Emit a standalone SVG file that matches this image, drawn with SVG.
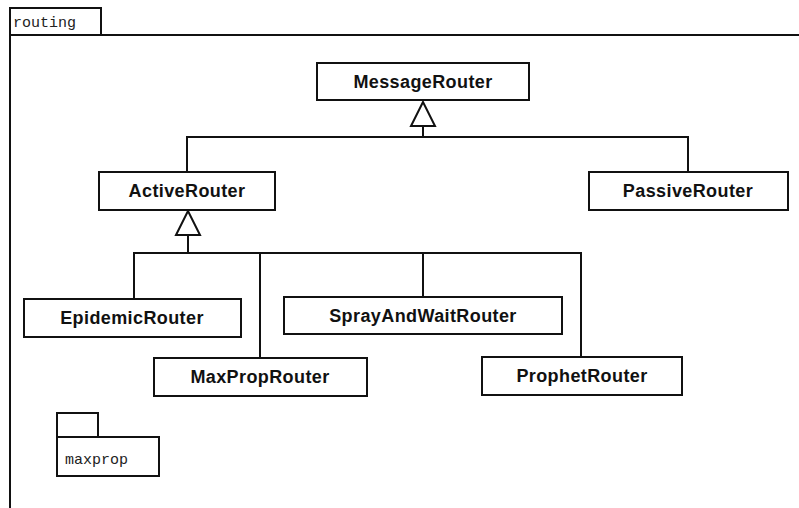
<svg xmlns="http://www.w3.org/2000/svg" width="799" height="508" viewBox="0 0 799 508">
  <style>
    .box { fill: #fff; stroke: #111; stroke-width: 2; }
    .frame { fill: none; stroke: #111; stroke-width: 2; }
    .lbl { font-family: "Liberation Sans", Arial, sans-serif; font-weight: bold; font-size: 18px; letter-spacing: 0.4px; fill: #111; text-anchor: middle; }
    .pkg { font-family: "Liberation Mono", "Courier New", monospace; font-size: 15px; fill: #222; }
    .conn { fill: none; stroke: #111; stroke-width: 2; }
    .tri { fill: #fff; stroke: #111; stroke-width: 2; stroke-linejoin: miter; }
  </style>

  <!-- package frame: routing -->
  <g id="routing">
    <rect class="frame" x="10" y="8" width="91" height="27"/>
    <path class="frame" d="M10 35 V508 M10 35 H799"/>
    <text class="pkg" x="13" y="27">routing</text>
  </g>

  <!-- generalization connectors -->
  <g id="connectors">
    <path class="conn" d="M423 126 V137 M187 172 V137 H688 V172"/>
    <polygon class="tri" points="423,102 411,126 435,126"/>
    <path class="conn" d="M188 235 V253 M134 299 V253 H581 V357 M260 253 V358 M423 253 V297"/>
    <polygon class="tri" points="188,211 176,235 200,235"/>
  </g>

  <g id="MessageRouter">
    <rect class="box" x="317" y="63" width="212" height="37"/>
    <text class="lbl" x="423" y="88">MessageRouter</text>
  </g>

  <g id="ActiveRouter">
    <rect class="box" x="99" y="172" width="176" height="38"/>
    <text class="lbl" x="187" y="197">ActiveRouter</text>
  </g>

  <g id="PassiveRouter">
    <rect class="box" x="589" y="172" width="199" height="38"/>
    <text class="lbl" x="688" y="197">PassiveRouter</text>
  </g>

  <g id="EpidemicRouter">
    <rect class="box" x="24" y="299" width="217" height="38"/>
    <text class="lbl" x="132" y="324">EpidemicRouter</text>
  </g>

  <g id="SprayAndWaitRouter">
    <rect class="box" x="284" y="297" width="278" height="37"/>
    <text class="lbl" x="423" y="322">SprayAndWaitRouter</text>
  </g>

  <g id="MaxPropRouter">
    <rect class="box" x="154" y="358" width="213" height="38"/>
    <text class="lbl" x="260" y="383">MaxPropRouter</text>
  </g>

  <g id="ProphetRouter">
    <rect class="box" x="482" y="357" width="200" height="38"/>
    <text class="lbl" x="582" y="382">ProphetRouter</text>
  </g>

  <!-- nested package: maxprop -->
  <g id="maxprop">
    <rect class="frame" x="57" y="413" width="41" height="24"/>
    <rect class="box" x="57" y="437" width="102" height="39"/>
    <text class="pkg" x="65" y="464">maxprop</text>
  </g>
</svg>
